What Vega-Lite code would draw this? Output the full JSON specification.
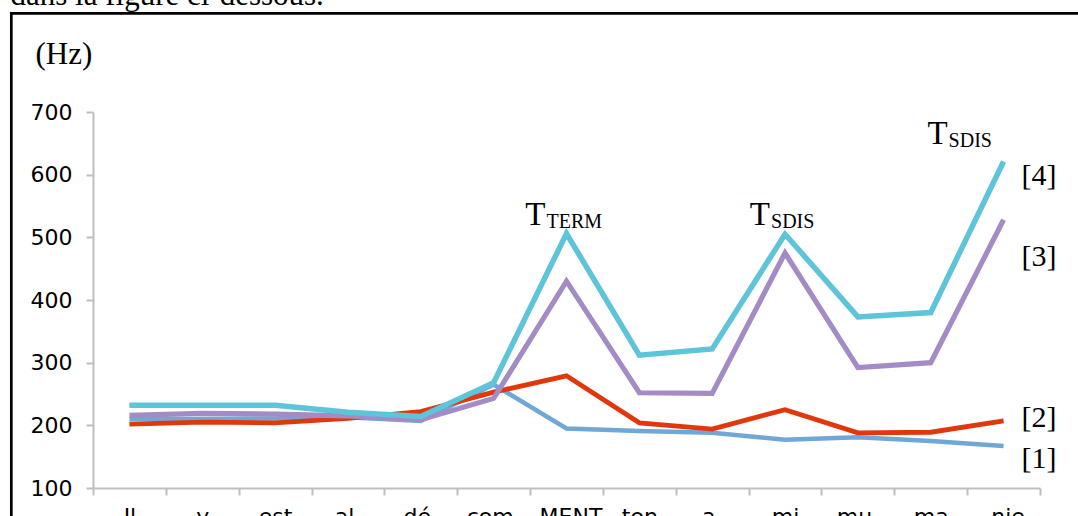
{
  "$schema": "https://vega.github.io/schema/vega-lite/v6.json",
  "width": 947,
  "height": 376,
  "autosize": {"type": "none"},
  "padding": {"left": 93, "top": 112, "right": 38, "bottom": 28},
  "background": "white",
  "config": {"view": {"stroke": null}},
  "data": {"values": [
    {"series": "[1]", "syl": "Il", "hz": 210},
    {"series": "[1]", "syl": "y", "hz": 210},
    {"series": "[1]", "syl": "est", "hz": 211},
    {"series": "[1]", "syl": "al-", "hz": 213},
    {"series": "[1]", "syl": "dé-", "hz": 207},
    {"series": "[1]", "syl": "com-", "hz": 265},
    {"series": "[1]", "syl": "-MENT", "hz": 195},
    {"series": "[1]", "syl": "ton", "hz": 191},
    {"series": "[1]", "syl": "a-", "hz": 188},
    {"series": "[1]", "syl": "mi", "hz": 177},
    {"series": "[1]", "syl": "mu-", "hz": 181},
    {"series": "[1]", "syl": "-ma-", "hz": 175},
    {"series": "[1]", "syl": "-nie", "hz": 167},
    {"series": "[2]", "syl": "Il", "hz": 202},
    {"series": "[2]", "syl": "y", "hz": 205},
    {"series": "[2]", "syl": "est", "hz": 204},
    {"series": "[2]", "syl": "al-", "hz": 211},
    {"series": "[2]", "syl": "dé-", "hz": 222},
    {"series": "[2]", "syl": "com-", "hz": 253},
    {"series": "[2]", "syl": "-MENT", "hz": 279},
    {"series": "[2]", "syl": "ton", "hz": 204},
    {"series": "[2]", "syl": "a-", "hz": 194},
    {"series": "[2]", "syl": "mi", "hz": 225},
    {"series": "[2]", "syl": "mu-", "hz": 188},
    {"series": "[2]", "syl": "-ma-", "hz": 189},
    {"series": "[2]", "syl": "-nie", "hz": 207},
    {"series": "[3]", "syl": "Il", "hz": 216},
    {"series": "[3]", "syl": "y", "hz": 219},
    {"series": "[3]", "syl": "est", "hz": 218},
    {"series": "[3]", "syl": "al-", "hz": 215},
    {"series": "[3]", "syl": "dé-", "hz": 209},
    {"series": "[3]", "syl": "com-", "hz": 243},
    {"series": "[3]", "syl": "-MENT", "hz": 430},
    {"series": "[3]", "syl": "ton", "hz": 252},
    {"series": "[3]", "syl": "a-", "hz": 251},
    {"series": "[3]", "syl": "mi", "hz": 475},
    {"series": "[3]", "syl": "mu-", "hz": 292},
    {"series": "[3]", "syl": "-ma-", "hz": 300},
    {"series": "[3]", "syl": "-nie", "hz": 528},
    {"series": "[4]", "syl": "Il", "hz": 232},
    {"series": "[4]", "syl": "y", "hz": 232},
    {"series": "[4]", "syl": "est", "hz": 232},
    {"series": "[4]", "syl": "al-", "hz": 221},
    {"series": "[4]", "syl": "dé-", "hz": 214},
    {"series": "[4]", "syl": "com-", "hz": 268},
    {"series": "[4]", "syl": "-MENT", "hz": 506},
    {"series": "[4]", "syl": "ton", "hz": 312},
    {"series": "[4]", "syl": "a-", "hz": 322},
    {"series": "[4]", "syl": "mi", "hz": 505},
    {"series": "[4]", "syl": "mu-", "hz": 373},
    {"series": "[4]", "syl": "-ma-", "hz": 380},
    {"series": "[4]", "syl": "-nie", "hz": 621}
  ]},
  "layer": [
    {
      "encoding": {
        "x": {
          "field": "syl",
          "type": "nominal",
          "sort": null,
          "scale": {
            "type": "band",
            "domain": ["Il", "y", "est", "al-", "dé-", "com-", "-MENT", "ton", "a-", "mi", "mu-", "-ma-", "-nie"],
            "paddingInner": 0,
            "paddingOuter": 0
          },
          "axis": {
            "title": null,
            "labelAngle": 0,
            "tickBand": "extent",
            "grid": false,
            "domainColor": "#BFBFBF",
            "domainWidth": 2,
            "tickColor": "#BFBFBF",
            "tickWidth": 2,
            "tickSize": 7,
            "labelFont": "DejaVu Sans",
            "labelFontSize": 22,
            "labelColor": "black",
            "labelPadding": 11
          }
        },
        "y": {
          "field": "hz",
          "type": "quantitative",
          "scale": {"domain": [100, 700], "nice": false, "zero": false},
          "axis": {
            "title": "(Hz)",
            "titleAngle": 0,
            "titleAlign": "left",
            "titleBaseline": "alphabetic",
            "titleX": -58,
            "titleY": -49,
            "titleFont": "Liberation Serif",
            "titleFontSize": 31,
            "titleFontWeight": "normal",
            "titleColor": "black",
            "values": [100, 200, 300, 400, 500, 600, 700],
            "grid": false,
            "domainColor": "#BFBFBF",
            "domainWidth": 2,
            "tickColor": "#BFBFBF",
            "tickWidth": 2,
            "tickSize": 7,
            "labelFont": "DejaVu Sans",
            "labelFontSize": 22,
            "labelColor": "black",
            "labelPadding": 14,
            "labelFlush": false
          }
        }
      },
      "layer": [
        {
          "mark": {"type": "line", "strokeJoin": "miter"},
          "encoding": {
            "color": {
              "field": "series",
              "type": "nominal",
              "scale": {"domain": ["[1]", "[2]", "[3]", "[4]"], "range": ["#6FA8D6", "#E0380C", "#A38CC5", "#5EC4D9"]},
              "legend": null
            },
            "strokeWidth": {
              "field": "series",
              "type": "ordinal",
              "scale": {"domain": ["[1]", "[2]", "[3]", "[4]"], "range": [4.5, 5.5, 4, 4]},
              "legend": null
            }
          }
        },
        {
          "data": {"values": [
            {"series": "[4]", "syl": "-nie", "hz": 598},
            {"series": "[3]", "syl": "-nie", "hz": 469},
            {"series": "[2]", "syl": "-nie", "hz": 212},
            {"series": "[1]", "syl": "-nie", "hz": 147}
          ]},
          "mark": {"type": "text", "align": "left", "baseline": "middle", "dx": 18, "font": "Liberation Serif", "fontSize": 30, "color": "black"},
          "encoding": {"text": {"field": "series"}}
        },
        {
          "data": {"values": [{"syl": "-MENT", "hz": 520, "main": "T", "sub": "TERM"}]},
          "layer": [
            {
              "mark": {"type": "text", "align": "right", "baseline": "alphabetic", "dx": -21, "font": "Liberation Serif", "fontSize": 33, "color": "black"},
              "encoding": {"text": {"field": "main"}}
            },
            {
              "mark": {"type": "text", "align": "left", "baseline": "alphabetic", "dx": -20, "dy": 3, "font": "Liberation Serif", "fontSize": 20, "color": "black"},
              "encoding": {"text": {"field": "sub"}}
            }
          ]
        },
        {
          "data": {"values": [{"syl": "mi", "hz": 520, "main": "T", "sub": "SDIS"}]},
          "layer": [
            {
              "mark": {"type": "text", "align": "right", "baseline": "alphabetic", "dx": -15, "font": "Liberation Serif", "fontSize": 33, "color": "black"},
              "encoding": {"text": {"field": "main"}}
            },
            {
              "mark": {"type": "text", "align": "left", "baseline": "alphabetic", "dx": -14, "dy": 3, "font": "Liberation Serif", "fontSize": 20, "color": "black"},
              "encoding": {"text": {"field": "sub"}}
            }
          ]
        },
        {
          "data": {"values": [{"syl": "-nie", "hz": 649, "main": "T", "sub": "SDIS"}]},
          "layer": [
            {
              "mark": {"type": "text", "align": "right", "baseline": "alphabetic", "dx": -56, "font": "Liberation Serif", "fontSize": 33, "color": "black"},
              "encoding": {"text": {"field": "main"}}
            },
            {
              "mark": {"type": "text", "align": "left", "baseline": "alphabetic", "dx": -55, "dy": 3, "font": "Liberation Serif", "fontSize": 20, "color": "black"},
              "encoding": {"text": {"field": "sub"}}
            }
          ]
        }
      ]
    },
    {
      "data": {"values": [{"caption": "dans la figure ci-dessous."}]},
      "mark": {"type": "rect", "filled": false, "stroke": "black", "strokeWidth": 2.7, "clip": false},
      "encoding": {
        "x": {"datum": -1.1215, "type": "quantitative", "scale": {"domain": [0, 13], "nice": false, "zero": false}, "axis": null},
        "x2": {"datum": 14},
        "y": {"datum": 857.5, "type": "quantitative"},
        "y2": {"datum": 0}
      }
    },
    {
      "data": {"values": [{"caption": "dans la figure ci-dessous."}]},
      "mark": {"type": "text", "align": "left", "baseline": "alphabetic", "font": "Liberation Serif", "fontSize": 31, "color": "black"},
      "encoding": {
        "x": {"datum": -1.1325, "type": "quantitative", "scale": {"domain": [0, 13], "nice": false, "zero": false}, "axis": null},
        "y": {"datum": 870.7, "type": "quantitative"},
        "text": {"field": "caption"}
      }
    }
  ],
  "resolve": {"scale": {"x": "independent"}, "axis": {"x": "independent"}}
}
